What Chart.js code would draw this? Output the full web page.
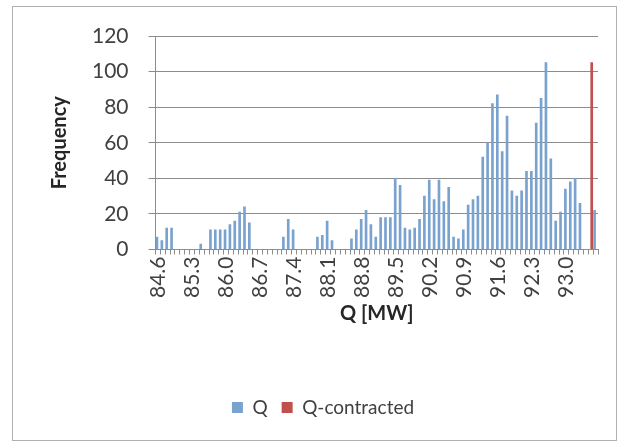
<!DOCTYPE html>
<html>
<head>
<meta charset="utf-8">
<script src="https://cdn.jsdelivr.net/npm/chart.js@4/dist/chart.umd.min.js"></script>
<style>
  html, body { margin: 0; padding: 0; background: #fff; }
  #wrap { width: 626px; height: 448px; position: relative; }
</style>
</head>
<body>
<div id="wrap"><canvas id="chart"></canvas></div>
<script>
// bins of Q [MW]
const categories = [
  "84.6","84.7","84.8","84.9","85.0","85.1","85.2","85.3","85.4","85.5",
  "85.6","85.7","85.8","85.9","86.0","86.1","86.2","86.3","86.4","86.5",
  "86.6","86.7","86.8","86.9","87.0","87.1","87.2","87.3","87.4","87.5",
  "87.6","87.7","87.8","87.9","88.0","88.1","88.2","88.3","88.4","88.5",
  "88.6","88.7","88.8","88.9","89.0","89.1","89.2","89.3","89.4","89.5",
  "89.6","89.7","89.8","89.9","90.0","90.1","90.2","90.3","90.4","90.5",
  "90.6","90.7","90.8","90.9","91.0","91.1","91.2","91.3","91.4","91.5",
  "91.6","91.7","91.8","91.9","92.0","92.1","92.2","92.3","92.4","92.5",
  "92.6","92.7","92.8","92.9","93.0","93.1","93.2","93.3","93.4","93.5",
  "93.6"
];

// frequency per bin
const qValues = [
  7, 5, 12, 12, 0, 0, 0, 0, 0, 3,
  0, 11, 11, 11, 11, 14, 16, 21, 24, 15,
  0, 0, 0, 0, 0, 0, 7, 17, 11, 0,
  0, 0, 0, 7, 8, 16, 5, 0, 0, 0,
  6, 11, 17, 22, 14, 7, 18, 18, 18, 40,
  36, 12, 11, 12, 17, 30, 39, 28, 39, 27,
  35, 7, 6, 11, 25, 28, 30, 52, 60, 82,
  87, 55, 75, 33, 30, 33, 44, 44, 71, 85,
  105, 51, 16, 21, 34, 38, 40, 26, 0, 0,
  22
];

// contracted value only in one bin
const qContracted = [
  null, null, null, null, null, null, null, null, null, null,
  null, null, null, null, null, null, null, null, null, null,
  null, null, null, null, null, null, null, null, null, null,
  null, null, null, null, null, null, null, null, null, null,
  null, null, null, null, null, null, null, null, null, null,
  null, null, null, null, null, null, null, null, null, null,
  null, null, null, null, null, null, null, null, null, null,
  null, null, null, null, null, null, null, null, null, null,
  null, null, null, null, null, null, null, null, null, 105,
  null
];

const yTicks = [0, 20, 40, 60, 80, 100, 120];
const labelEvery = 7;

const fontFamily = "Lato, 'Open Sans', sans-serif";

// frame around the whole chart, like the Excel chart border
const frame = {
  id: "frame",
  beforeDraw(chart) {
    const ctx = chart.ctx;
    ctx.save();
    ctx.fillStyle = "#fff";
    ctx.fillRect(0, 0, chart.width, chart.height);
    ctx.strokeStyle = "#b0b0b0";
    ctx.lineWidth = 1;
    ctx.strokeRect(12.5, 6.5, 604, 434);
    ctx.restore();
  }
};

const ctx = document.getElementById("chart").getContext("2d");
new Chart(ctx, {
  type: "bar",
  data: {
    labels: categories,
    datasets: [
      {
        label: "Q",
        data: qValues,
        backgroundColor: "#7aa2cf",
        borderWidth: 0,
        barThickness: 2
      },
      {
        label: "Q-contracted",
        data: qContracted,
        backgroundColor: "#c0504d",
        borderWidth: 0,
        barThickness: 2
      }
    ]
  },
  options: {
    responsive: true,
    maintainAspectRatio: false,
    animation: false,
    layout: { padding: { left: 48, right: 28, top: 36, bottom: 21 } },
    plugins: {
      tooltip: { enabled: false },
      legend: {
        position: "bottom",
        labels: {
          color: "#404040",
          font: { family: fontFamily, size: 19 },
          boxWidth: 11,
          boxHeight: 11,
          padding: 14
        }
      }
    },
    scales: {
      x: {
        offset: true,
        grid: {
          offset: true,
          drawOnChartArea: false,
          drawTicks: true,
          tickLength: 5,
          color: "#8c8c8c"
        },
        border: { color: "#8c8c8c" },
        ticks: {
          autoSkip: false,
          minRotation: 90,
          maxRotation: 90,
          padding: 2,
          color: "#404040",
          font: { family: fontFamily, size: 21 },
          callback: function (value, index) {
            return index % labelEvery === 0 ? categories[index] : "";
          }
        },
        title: {
          display: true,
          text: "Q [MW]",
          color: "#262626",
          font: { family: fontFamily, size: 20, weight: "bold" },
          padding: { top: 2, bottom: 58 }
        }
      },
      y: {
        min: 0,
        max: 120,
        afterBuildTicks: function (axis) {
          axis.ticks = yTicks.map(v => ({ value: v }));
        },
        grid: {
          color: "#8c8c8c",
          tickLength: 7
        },
        border: { color: "#8c8c8c" },
        ticks: {
          padding: 20,
          color: "#404040",
          font: { family: fontFamily, size: 21 }
        },
        title: {
          display: true,
          text: "Frequency",
          color: "#262626",
          font: { family: fontFamily, size: 20, weight: "bold" },
          padding: { top: 0, bottom: 0 }
        }
      }
    }
  },
  plugins: [frame]
});
</script>
</body>
</html>
